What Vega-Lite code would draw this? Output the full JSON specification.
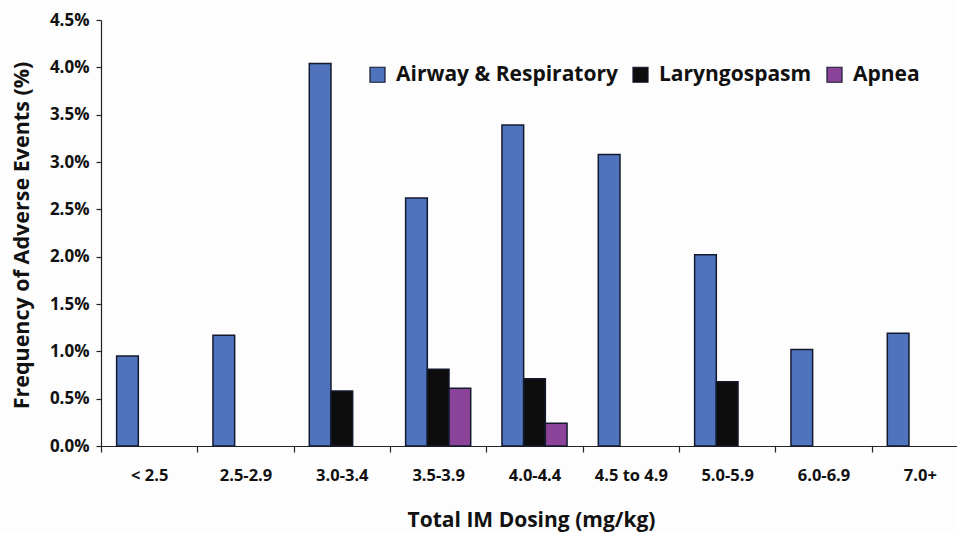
{
  "$schema": "https://vega.github.io/schema/vega-lite/v6.json",
  "autosize": {"type": "none"},
  "width": 856,
  "height": 426,
  "padding": {"left": 101, "top": 20, "right": 0, "bottom": 87},
  "background": "#fdfdfd",
  "data": {"values": [
    {"dose": "< 2.5", "series": "Airway & Respiratory", "pct": 0.0095},
    {"dose": "2.5-2.9", "series": "Airway & Respiratory", "pct": 0.0117},
    {"dose": "3.0-3.4", "series": "Airway & Respiratory", "pct": 0.0404},
    {"dose": "3.0-3.4", "series": "Laryngospasm", "pct": 0.0058},
    {"dose": "3.5-3.9", "series": "Airway & Respiratory", "pct": 0.0262},
    {"dose": "3.5-3.9", "series": "Laryngospasm", "pct": 0.0081},
    {"dose": "3.5-3.9", "series": "Apnea", "pct": 0.0061},
    {"dose": "4.0-4.4", "series": "Airway & Respiratory", "pct": 0.0339},
    {"dose": "4.0-4.4", "series": "Laryngospasm", "pct": 0.0071},
    {"dose": "4.0-4.4", "series": "Apnea", "pct": 0.0024},
    {"dose": "4.5 to 4.9", "series": "Airway & Respiratory", "pct": 0.0308},
    {"dose": "5.0-5.9", "series": "Airway & Respiratory", "pct": 0.0202},
    {"dose": "5.0-5.9", "series": "Laryngospasm", "pct": 0.0068},
    {"dose": "6.0-6.9", "series": "Airway & Respiratory", "pct": 0.0102},
    {"dose": "7.0+", "series": "Airway & Respiratory", "pct": 0.0119}
  ]},
  "mark": {"type": "bar", "stroke": "#141a2e", "strokeWidth": 1.5},
  "encoding": {
    "x": {
      "field": "dose", "type": "nominal",
      "sort": ["< 2.5", "2.5-2.9", "3.0-3.4", "3.5-3.9", "4.0-4.4", "4.5 to 4.9", "5.0-5.9", "6.0-6.9", "7.0+"],
      "scale": {"range": [0, 867], "paddingInner": 0, "paddingOuter": 0},
      "axis": {
        "title": "Total IM Dosing (mg/kg)",
        "tickBand": "extent",
        "labelAngle": 0,
        "labelFont": "Open Sans", "labelFontWeight": "bold", "labelFontSize": 16.5, "labelColor": "#111",
        "labelPadding": 15,
        "tickSize": 6, "tickColor": "#222", "domainColor": "#222", "domainWidth": 1.2, "tickWidth": 1.2,
        "titleFont": "Open Sans", "titleFontWeight": "bold", "titleFontSize": 21, "titleColor": "#111",
        "titleX": 430, "titleY": 74, "titleBaseline": "middle", "titleAlign": "center"
      }
    },
    "xOffset": {
      "field": "series", "type": "nominal",
      "scale": {"domain": ["Airway & Respiratory", "Laryngospasm", "Apnea"], "paddingInner": 0, "paddingOuter": 0.72}
    },
    "y": {
      "field": "pct", "type": "quantitative",
      "scale": {"domain": [0, 0.045], "nice": false},
      "axis": {
        "title": "Frequency of Adverse Events (%)",
        "format": ".1%",
        "values": [0, 0.005, 0.01, 0.015, 0.02, 0.025, 0.03, 0.035, 0.04, 0.045],
        "grid": false,
        "labelFont": "Open Sans", "labelFontWeight": "bold", "labelFontSize": 17, "labelColor": "#111",
        "labelPadding": 7,
        "tickSize": 5, "tickColor": "#222", "domainColor": "#222", "domainWidth": 1.2, "tickWidth": 1.2,
        "titleFont": "Open Sans", "titleFontWeight": "bold", "titleFontSize": 21.5, "titleColor": "#111",
        "titleAngle": -90, "titleX": -79, "titleY": 215, "titleBaseline": "middle", "titleAlign": "center"
      }
    },
    "color": {
      "field": "series", "type": "nominal",
      "scale": {"domain": ["Airway & Respiratory", "Laryngospasm", "Apnea"], "range": ["#4f73bd", "#0d0d0d", "#8b4499"]},
      "legend": {
        "title": null,
        "orient": "none",
        "direction": "horizontal",
        "legendX": 266,
        "legendY": 44,
        "symbolType": "square",
        "symbolSize": 225,
        "symbolStrokeColor": "#141a2e",
        "symbolStrokeWidth": 1.2,
        "symbolOpacity": 1,
        "labelFont": "Open Sans", "labelFontWeight": "bold", "labelFontSize": 21, "labelColor": "#111",
        "labelOffset": 8,
        "columnPadding": 12,
        "labelLimit": 400
      }
    }
  },
  "config": {"view": {"stroke": null}}
}
